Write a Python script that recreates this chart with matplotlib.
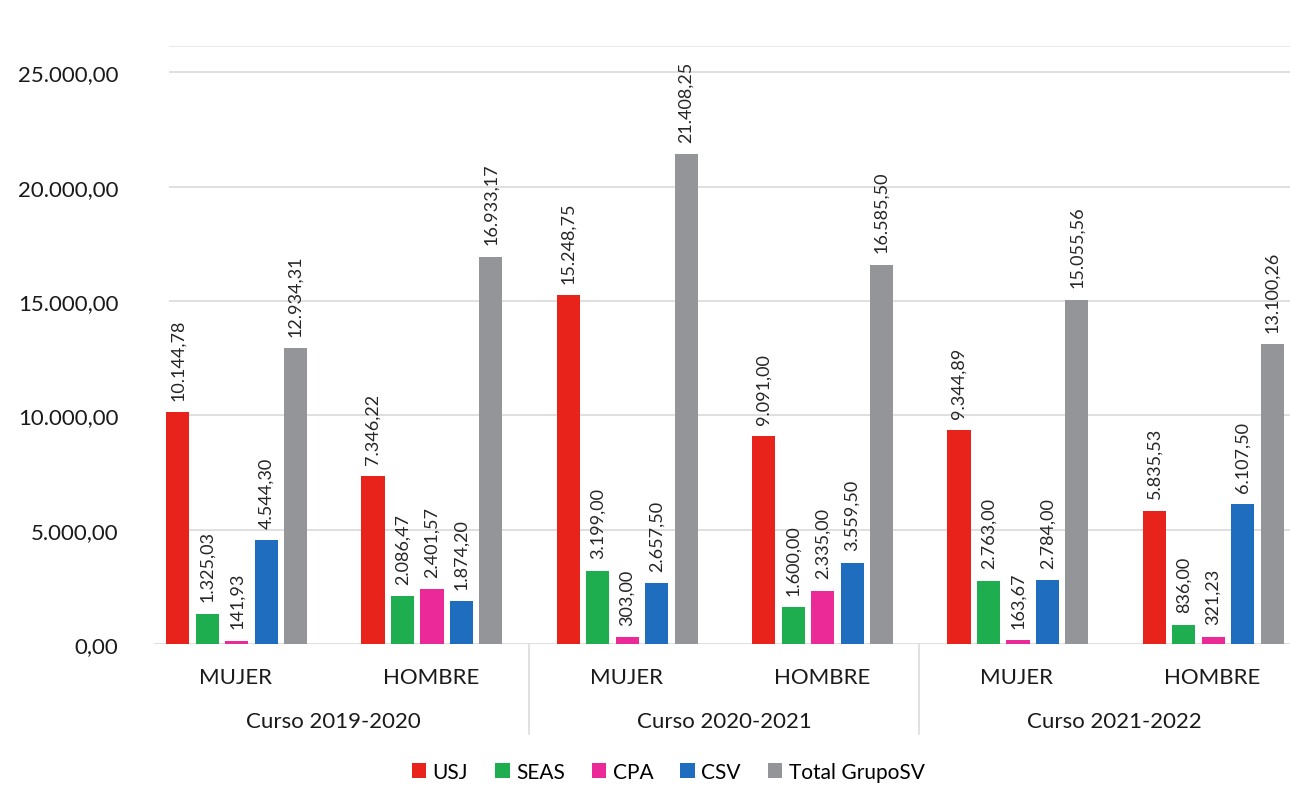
import numpy as np
import matplotlib
matplotlib.use("Agg")
import matplotlib.pyplot as plt
import matplotlib.transforms as mtransforms

plt.rcParams['font.family'] = ['Lato', 'DejaVu Sans']

# Data
courses = ['Curso 2019-2020', 'Curso 2020-2021', 'Curso 2021-2022']
sexes = ['MUJER', 'HOMBRE']
series = ['USJ', 'SEAS', 'CPA', 'CSV', 'Total GrupoSV']
usj = [10144.78, 7346.22, 15248.75, 9091.00, 9344.89, 5835.53]
seas = [1325.03, 2086.47, 3199.00, 1600.00, 2763.00, 836.00]
cpa = [141.93, 2401.57, 303.00, 2335.00, 163.67, 321.23]
csv = [4544.30, 1874.20, 2657.50, 3559.50, 2784.00, 6107.50]
total = [12934.31, 16933.17, 21408.25, 16585.50, 15055.56, 13100.26]
colors = ['#e8231c', '#1fae4f', '#ec2a97', '#1f6dbf', '#939598']

values = [usj, seas, cpa, csv, total]


def fmt_es(v):
    s = f"{v:,.2f}"
    return s.replace(',', 'X').replace('.', ',').replace('X', '.')


W, H = 1290, 803
fig = plt.figure(figsize=(W / 100, H / 100), dpi=100)
ax = fig.add_axes([138 / W, 1 - 645 / H, 1172 / W, 598 / H])

x = np.arange(len(usj))
pitch = 0.151
bw = 0.118
for k, (name, vals, c) in enumerate(zip(series, values, colors)):
    pos = x + (k - 2) * pitch + 0.005
    bars = ax.bar(pos, vals, width=bw, color=c, label=name, zorder=3)
    for b, v in zip(bars, vals):
        ax.annotate(fmt_es(v), (b.get_x() + b.get_width() / 2, v),
                    xytext=(0, 9), textcoords='offset points',
                    rotation=90, ha='center', va='bottom',
                    fontsize=13, color='#262626')

ax.set_xlim(-0.5, len(usj) - 0.5)
ax.set_ylim(0, 26150)
yt = np.arange(0, 25001, 5000)
ax.set_yticks(yt)
ax.set_yticklabels([fmt_es(v) for v in yt], fontsize=16, color='#1a1a1a')
ax.tick_params(axis='y', length=0, pad=14)
ax.set_xticks([])
for v in yt[1:]:
    ax.axhline(v, xmin=32 / 1172, color='#dcdcdc', lw=1.3, zorder=0)
ax.axhline(26150, xmin=32 / 1172, color='#e6e6e6', lw=1.3, zorder=0)
ax.axhline(0, xmin=17 / 1172, color='#dcdcdc', lw=1.3, zorder=2)
for s in ['top', 'right', 'left', 'bottom']:
    ax.spines[s].set_visible(False)

# multi-level category axis
trans = mtransforms.blended_transform_factory(ax.transData, ax.transAxes)
for i in range(len(usj)):
    ax.text(i, -0.055, sexes[i % 2], transform=trans, ha='center', va='center',
            fontsize=16, color='#1a1a1a')
for g, name in enumerate(courses):
    ax.text(2 * g + 0.5, -0.129, name, transform=trans, ha='center', va='center',
            fontsize=16, color='#1a1a1a')
for sep in [1.5, 3.5]:
    ax.plot([sep, sep], [0, -0.15], transform=trans, color='#dcdcdc', lw=1.2,
            clip_on=False)

fig.legend(loc='center', bbox_to_anchor=(668 / W, 1 - 773 / H), ncol=5,
           frameon=False, fontsize=15, handlelength=0.7, handleheight=0.7,
           handletextpad=0.3, columnspacing=1.3)

fig.savefig('out.png', dpi=100)
